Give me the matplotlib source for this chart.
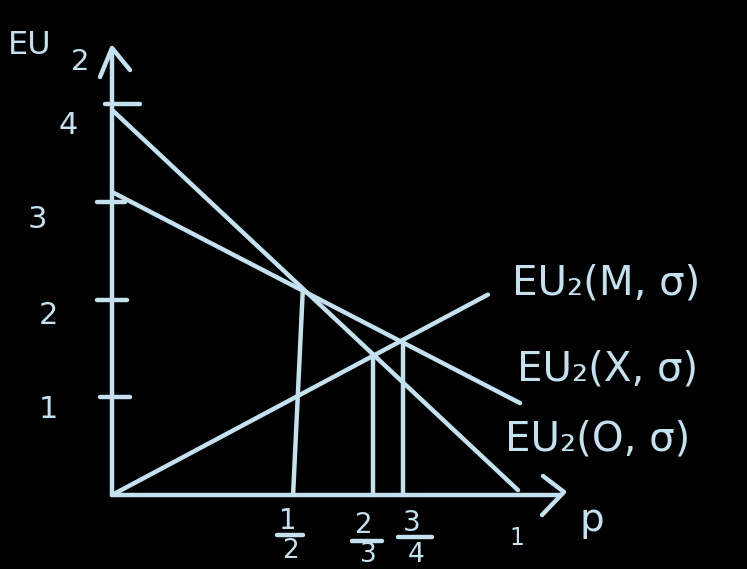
import numpy as np
import matplotlib.pyplot as plt

# colours / size
chalk = '#c3e1ee'
W, H = 747, 569

# lines: (p, EU2) at start and end
line_names = ['EU₂(M, σ)', 'EU₂(X, σ)', 'EU₂(O, σ)']
line_p0 = [0.0, 0.0, 0.0]
line_y0 = [0.0, 3.10, 3.94]
line_p1 = [0.926, 1.005, 1.0]
line_y1 = [2.05, 0.94, 0.05]

# vertical drops at the crossings
drop_p_top = [0.47, 0.643, 0.717]
drop_p_bot = [0.446, 0.643, 0.717]
drop_y_top = [2.10, 1.43, 1.59]
drop_num = ['1', '2', '3']
drop_den = ['2', '3', '4']

yticks = [1, 2, 3, 4]
ytick_labels = ['1', '2', '3', '4']

# pixel -> data mapping of the drawing (origin at px 112,495; p=1 at 518; EU=4 at 104)
def px(x):
    return (x - 112) / 406.0

def py(y):
    return (495 - y) / 97.75

fig = plt.figure(figsize=(W / 100, H / 100), dpi=100)
fig.patch.set_facecolor('black')
ax = fig.add_axes([0, 0, 1, 1])
ax.set_facecolor('black')
ax.set_xlim(px(0), px(W))
ax.set_ylim(py(H), py(0))
ax.axis('off')

lw = 3.2
kw = dict(color=chalk, lw=lw, solid_capstyle='round', solid_joinstyle='round')
tkw = dict(color=chalk, ha='center', va='center')
bkw = dict(color=chalk, ha='center', va='baseline')

# axes with arrows
ax.plot([0, 0], [0, py(50)], **kw)
ax.plot([px(100), 0, px(130)], [py(77), py(48), py(70)], **kw)
ax.plot([0, px(560)], [0, 0], **kw)
ax.plot([px(543), px(564), px(542)], [py(476), py(492), py(515)], **kw)

# y ticks
tick_left = [px(100), px(97), px(97), px(105)]
tick_right = [px(130), px(127), px(125), px(140)]
lab_x = [48, 48, 37, 68]
lab_y = [410, 316, 220, 125]
for t, l, r, lab, lx, ly in zip(yticks, tick_left, tick_right, ytick_labels, lab_x, lab_y):
    ax.plot([l, r], [t, t], **kw)
    ax.text(px(lx), py(ly), lab, fontsize=22, **tkw)

# the three EU lines
for p0, y0, p1, y1 in zip(line_p0, line_y0, line_p1, line_y1):
    ax.plot([p0, p1], [y0, y1], **kw)

# drop lines and hand-style fraction labels
for pt, pb, yt in zip(drop_p_top, drop_p_bot, drop_y_top):
    ax.plot([pb, pt], [0, yt], **kw)
num_x = [288, 364, 412]
num_base = [529, 533, 531]
den_x = [290, 368, 416]
den_base = [558, 562, 562]
bar_l = [277, 352, 398]
bar_r = [303, 382, 432]
bar_y = [535, 541, 537]
for i in range(3):
    ax.text(px(num_x[i]), py(num_base[i]), drop_num[i], fontsize=20, **bkw)
    ax.plot([px(bar_l[i]), px(bar_r[i])], [py(bar_y[i]), py(bar_y[i])], **kw)
    ax.text(px(den_x[i]), py(den_base[i]), drop_den[i], fontsize=19, **bkw)

ax.text(px(517), py(538), '1', fontsize=17, **tkw)
ax.text(px(592), py(520), 'p', fontsize=28, **tkw)

# axis title
ax.text(px(8), py(45), 'EU', color=chalk, fontsize=23, ha='left', va='center')
ax.text(px(80), py(62), '2', fontsize=21, **tkw)

# line labels
name_x = [512, 517, 505]
name_y = [284, 370, 440]
for n, lx, ly in zip(line_names, name_x, name_y):
    ax.text(px(lx), py(ly), n, color=chalk, fontsize=29, ha='left', va='center')

fig.savefig('out.png', dpi=100, facecolor='black')
